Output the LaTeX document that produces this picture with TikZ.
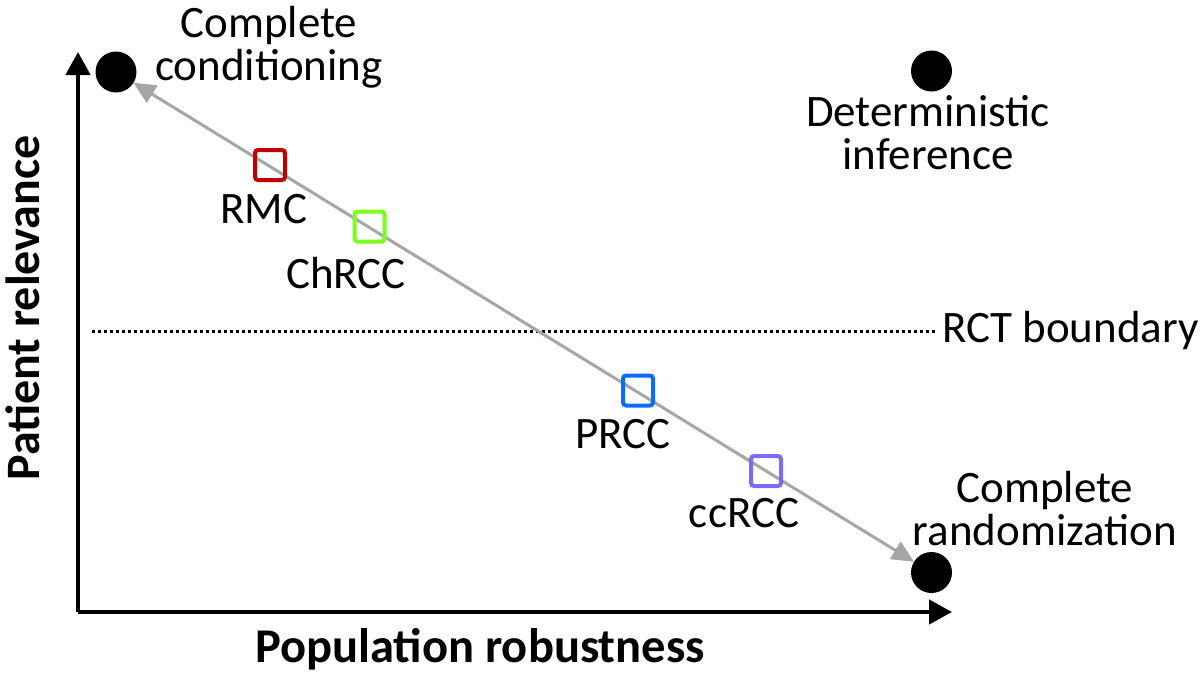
\documentclass[tikz,border=0pt]{standalone}
\usepackage{fontspec}
\setmainfont{Carlito}
\usetikzlibrary{arrows.meta}
\definecolor{arrowgray}{HTML}{A6A6A6}
\definecolor{rmcred}{HTML}{C00000}
\definecolor{chgreen}{HTML}{7CFC1A}
\definecolor{prblue}{HTML}{0A6CFF}
\definecolor{ccpurple}{HTML}{7C6CF5}
\begin{document}
\begin{tikzpicture}[x=1pt,y=-1pt,
  txt/.style={font=\fontsize{45}{43}\selectfont, inner sep=0pt, align=center},
  btxt/.style={font=\bfseries, inner sep=0pt},
  dot/.style={circle, fill=black, minimum size=41pt, inner sep=0pt, outer sep=0pt},
  marker/.style={draw, line width=4pt, rounded corners=3pt, minimum size=30pt, inner sep=0pt},
  axis/.style={line width=4.5pt, -{Triangle[length=23pt,width=24pt]}},
  diag/.style={arrowgray, line width=3pt, {Triangle[length=22pt,width=20pt]}-{Triangle[length=22pt,width=20pt]}},
  boundary/.style={line width=3pt, dash pattern=on 3pt off 3pt}
]
\useasboundingbox (0,0) rectangle (1200,673);
% axes
\coordinate (O) at (78,612);
\coordinate (ytop) at (78,52);
\coordinate (xend) at (952,612);
\draw[axis] (O) -- (ytop);
\draw[axis] (O) -- (xend);
% axis labels
\node[btxt, anchor=base, font=\fontsize{48.5}{50}\selectfont\bfseries] (xlab) at (480,662) {Population robustness};
\node[btxt, anchor=base, rotate=90, font=\fontsize{48}{50}\selectfont\bfseries] (ylab) at (39,308) {Patient relevance};
% corner dots
\node[dot] (cc) at (116,72) {};
\node[dot] (di) at (931.5,71) {};
\node[dot] (cr) at (931.5,572.5) {};
% corner labels
\node[txt] (cclab) at (269,47) {Complete\\conditioning};
\node[txt] (dilab) at (928,133) {Deterministic\\inference};
\node[txt] (crlab) at (1045,509) {Complete\\randomization};
% boundary
\coordinate (bl) at (92,331);
\coordinate (br) at (936,331);
\draw[boundary] (bl) -- (br);
\node[txt, anchor=base west] (rct) at (942,342) {RCT boundary};
% diagonal
\draw[diag] (cc) -- (cr);
% markers
\node[marker, rmcred] (rmc) at (270,165) {};
\node[marker, chgreen] (ch) at (369.5,226.5) {};
\node[marker, prblue] (pr) at (638,390.5) {};
\node[marker, ccpurple] (ccr) at (766,471) {};
% marker labels
\node[txt, anchor=base] (rmclab) at (264,223) {RMC};
\node[txt, anchor=base] (chlab) at (346,288) {ChRCC};
\node[txt, anchor=base] (prlab) at (623,448) {PRCC};
\node[txt, anchor=base] (cclab2) at (744,527) {ccRCC};
\end{tikzpicture}
\end{document}
